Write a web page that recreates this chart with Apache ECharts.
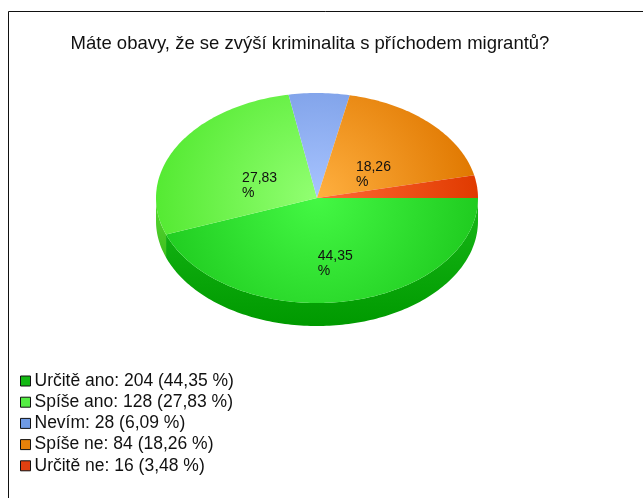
<!DOCTYPE html>
<html>
<head>
<meta charset="utf-8">
<script src="https://cdn.jsdelivr.net/npm/echarts@6/dist/echarts.min.js"></script>
<style>
html, body { margin: 0; padding: 0; background: #fff; }
#chart { width: 643px; height: 498px; }
</style>
</head>
<body>
<div id="chart"></div>
<script>
const titleText = "Máte obavy, že se zvýší kriminalita s příchodem migrantů?";
const categories = ["Určitě ano", "Spíše ano", "Nevím", "Spíše ne", "Určitě ne"];
const counts = [204, 128, 28, 84, 16];
const percents = [44.35, 27.83, 6.09, 18.26, 3.48];

const legendColors = ["#13b813", "#55ee44", "#6f9be6", "#e8820a", "#e04010"];
// radial gradient for the top face: centre -> rim
const topColors = [
  ["#44f844", "#20cc20"],
  ["#92ff72", "#55ea33"],
  ["#a8c4ff", "#6f94e0"],
  ["#ffb040", "#e07800"],
  ["#ff6a35", "#e03a00"]
];
// side wall: top -> bottom
const sideColors = [
  ["#18b818", "#009a00"],
  ["#58d832", "#3fbf1f"],
  ["#6080c8", "#5070b8"],
  ["#c86a00", "#b05a00"],
  ["#c83000", "#b02800"]
];

// pie geometry
const cx = 317, cy = 198, rx = 161, ry = 105, depth = 23;

const total = counts.reduce((a, b) => a + b, 0);
const fmt = v => v.toFixed(2).replace(".", ",");

function arc(a0, a1, dy) {
  const pts = [];
  const n = Math.max(2, Math.ceil((a1 - a0) / 0.02));
  for (let k = 0; k <= n; k++) {
    const a = a0 + (a1 - a0) * k / n;
    pts.push([cx + rx * Math.cos(a), cy + dy + ry * Math.sin(a)]);
  }
  return pts;
}

function renderSlice(i) {
  return function (params, api) {
    let start = 0;
    for (let j = 0; j < i; j++) start += counts[j];
    const a0 = start / total * Math.PI * 2;
    const a1 = (start + api.value(0)) / total * Math.PI * 2;
    const children = [];

    // visible front wall
    const s0 = Math.max(a0, 0), s1 = Math.min(a1, Math.PI);
    if (s1 > s0) {
      const pts = arc(s0, s1, 0).concat(arc(s0, s1, depth).reverse());
      children.push({
        type: "polygon",
        shape: { points: pts },
        style: {
          fill: new echarts.graphic.LinearGradient(0, 0, 0, 1, [
            { offset: 0, color: sideColors[i][0] },
            { offset: 1, color: sideColors[i][1] }
          ]),
          stroke: null
        }
      });
    }

    // top face
    children.push({
      type: "polygon",
      shape: { points: [[cx, cy]].concat(arc(a0, a1, 0)) },
      style: {
        fill: new echarts.graphic.RadialGradient(cx, cy, rx, [
          { offset: 0, color: topColors[i][0] },
          { offset: 1, color: topColors[i][1] }
        ], true),
        stroke: null
      }
    });

    // label for big slices
    if (percents[i] > 10) {
      const mid = (a0 + a1) / 2;
      children.push({
        type: "text",
        style: {
          x: cx + rx * 0.45 * Math.cos(mid) - 12,
          y: cy + 14 + ry * 0.5 * Math.sin(mid),
          text: fmt(percents[i]) + "\n%",
          fill: "#111",
          font: '14px "Liberation Sans", Arial, sans-serif',
          align: "left",
          verticalAlign: "middle",
          lineHeight: 15
        }
      });
    }
    return { type: "group", children: children };
  };
}

const series = categories.map((name, i) => ({
  type: "custom",
  name: name,
  coordinateSystem: "none",
  silent: true,
  itemStyle: { color: legendColors[i] },
  data: [[counts[i]]],
  renderItem: renderSlice(i)
}));

const chart = echarts.init(document.getElementById("chart"));
chart.setOption({
  animation: false,
  backgroundColor: "#fff",
  title: {
    text: titleText,
    left: 305,
    textAlign: "center",
    top: 29,
    textStyle: {
      fontFamily: '"Liberation Sans", Arial, sans-serif',
      fontSize: 18.5,
      fontWeight: "normal",
      color: "#111"
    }
  },
  legend: {
    orient: "vertical",
    left: 20,
    top: 372,
    padding: 0,
    icon: "rect",
    itemWidth: 10,
    itemHeight: 10,
    itemGap: 3.2,
    itemStyle: { borderColor: "#111", borderWidth: 1 },
    selectedMode: false,
    data: categories,
    formatter: name => {
      const i = categories.indexOf(name);
      return name + ": " + counts[i] + " (" + fmt(percents[i]) + " %)";
    },
    textStyle: {
      fontFamily: '"Liberation Sans", Arial, sans-serif',
      fontSize: 17.5,
      color: "#111",
      padding: [0, 0, 0, -1]
    }
  },
  graphic: [{
    type: "polyline",
    shape: { points: [[8.5, 498], [8.5, 11.5], [643, 11.5]] },
    style: { stroke: "#111", lineWidth: 1, fill: null },
    silent: true
  }],
  series: series
});
window.onresize = () => chart.resize();
</script>
</body>
</html>
